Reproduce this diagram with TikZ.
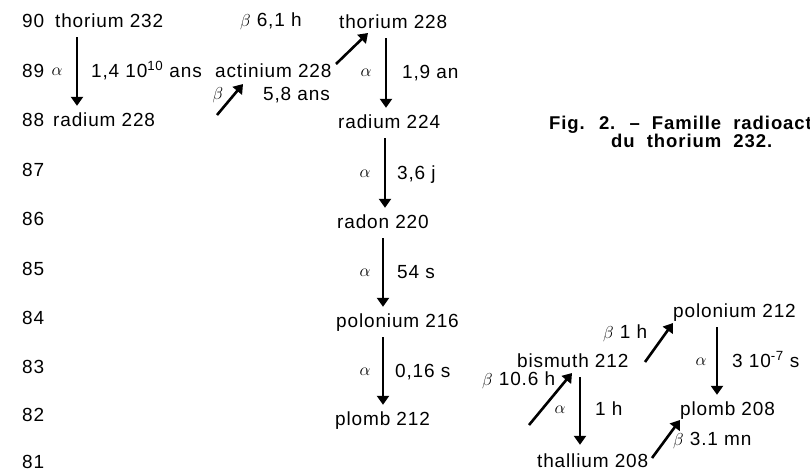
\documentclass[tikz,border=0pt]{standalone}
\usepackage{fontspec}
\setmainfont[LetterSpace=4.5]{Liberation Sans}
\newfontfamily\capfont[WordSpace=2,LetterSpace=5]{Liberation Sans Bold}
\usetikzlibrary{arrows.meta,calc}
\newcommand{\gb}{{\fontsize{16}{16}\selectfont$\beta$}}
\begin{document}
\begin{tikzpicture}[x=1pt,y=-1pt,
  lbl/.style={anchor=west,inner xsep=0pt,inner ysep=6pt,text height=14pt,text depth=4pt,font=\fontsize{19}{22}\selectfont},
  gr/.style={anchor=center,inner sep=0pt,font=\fontsize{17}{20}\selectfont},
  arr/.style={line width=2.6pt,-{Triangle[width=12pt,length=9pt]}},
  captxt/.style={anchor=west,inner sep=0pt,font=\capfont\fontsize{18.5}{18}\selectfont}
]
\useasboundingbox (0,0) rectangle (810,472);
\clip (0,0) rectangle (810,472);
% row numbers
\foreach \n/\y in {90/22,89/72,88/121,87/171,86/220,85/270,84/319,83/368,82/416,81/463}
  \node[lbl] (z\n) at (22,\y) {\n};
% nuclides
\node[lbl] (th232) at (55,22) {thorium 232};
\node[lbl] (ra228) at (53,121) {radium 228};
\node[lbl] (ac228) at (215,72) {actinium 228};
\node[lbl] (th228) at (339,23) {thorium 228};
\node[lbl] (ra224) at (338,123) {radium 224};
\node[lbl] (rn220) at (337,223) {radon 220};
\node[lbl] (po216) at (336,322) {polonium 216};
\node[lbl] (pb212) at (335,420) {plomb 212};
\node[lbl] (bi212) at (517,362) {bismuth 212};
\node[lbl] (po212) at (673,312) {polonium 212};
\node[lbl] (pb208) at (680,410) {plomb 208};
\node[lbl] (tl208) at (537,462) {thallium 208};
% vertical alpha arrows
\draw[arr] ($(th232.south west)+(22,0)$) -- ($(ra228.north west)+(24,0)$);
\draw[arr] ($(th228.south west)+(47,0)$) -- ($(ra224.north west)+(48,0)$);
\draw[arr] ($(ra224.south west)+(47,0)$) -- ($(rn220.north west)+(48,0)$);
\draw[arr] ($(rn220.south west)+(46,0)$) -- ($(po216.north west)+(47,0)$);
\draw[arr] ($(po216.south west)+(47,0)$) -- ($(pb212.north west)+(48,0)$);
\draw[arr] ($(po212.south west)+(44,0)$) -- ($(pb208.north west)+(37,0)$);
\draw[arr] ($(bi212.south west)+(63,0)$) -- ($(tl208.north west)+(43,-2)$);
% diagonal beta arrows
\draw[arr] ($(ac228.west)+(2,43)$) -- ($(ac228.west)+(28,12)$);
\draw[arr] ($(th228.west)+(-3,41)$) -- ($(th228.west)+(29,10)$);
\draw[arr] ($(po212.west)+(-28,50)$) -- ($(po212.west)+(0,11)$);
\draw[arr] ($(bi212.west)+(12,63)$) -- ($(bi212.west)+(55,11)$);
\draw[arr] ($(pb208.west)+(-28,48)$) -- ($(pb208.west)+(0,10)$);
% labels
\node[gr] (al1) at (57,72) {$\alpha$};
\node[lbl] (hl1) at (91,72) {1,4 10\textsuperscript{10} ans};
\node[lbl] (hl2) at (240,21) {\gb\ 6,1 h};
\node[gr] (bl2) at (218,95) {$\beta$};
\node[lbl] (hl3) at (263,95) {5,8 ans};
\node[gr] (al4) at (366,73) {$\alpha$};
\node[lbl] (hl4) at (402,73) {1,9 an};
\node[gr] (al5) at (365,174) {$\alpha$};
\node[lbl] (hl5) at (397,174) {3,6 j};
\node[gr] (al6) at (365,273) {$\alpha$};
\node[lbl] (hl6) at (397,273) {54 s};
\node[gr] (al7) at (365,372) {$\alpha$};
\node[lbl] (hl7) at (395,372) {0,16 s};
\node[lbl] (hl8) at (603,333) {\gb\ 1 h};
\node[gr] (al9) at (701,362) {$\alpha$};
\node[lbl] (hl9) at (732,362) {3 10\textsuperscript{-7} s};
\node[lbl] (hl10) at (482,380) {\gb\ 10.6 h};
\node[gr] (al11) at (560,410) {$\alpha$};
\node[lbl] (hl11) at (595,410) {1 h};
\node[lbl] (hl12) at (673,440) {\gb\ 3.1 mn};
% caption
\node[captxt] (cap1) at (549,125) {Fig. 2. – Famille radioactive};
\node[captxt] (cap2) at (611,141) {du thorium 232.};
\end{tikzpicture}
\end{document}
